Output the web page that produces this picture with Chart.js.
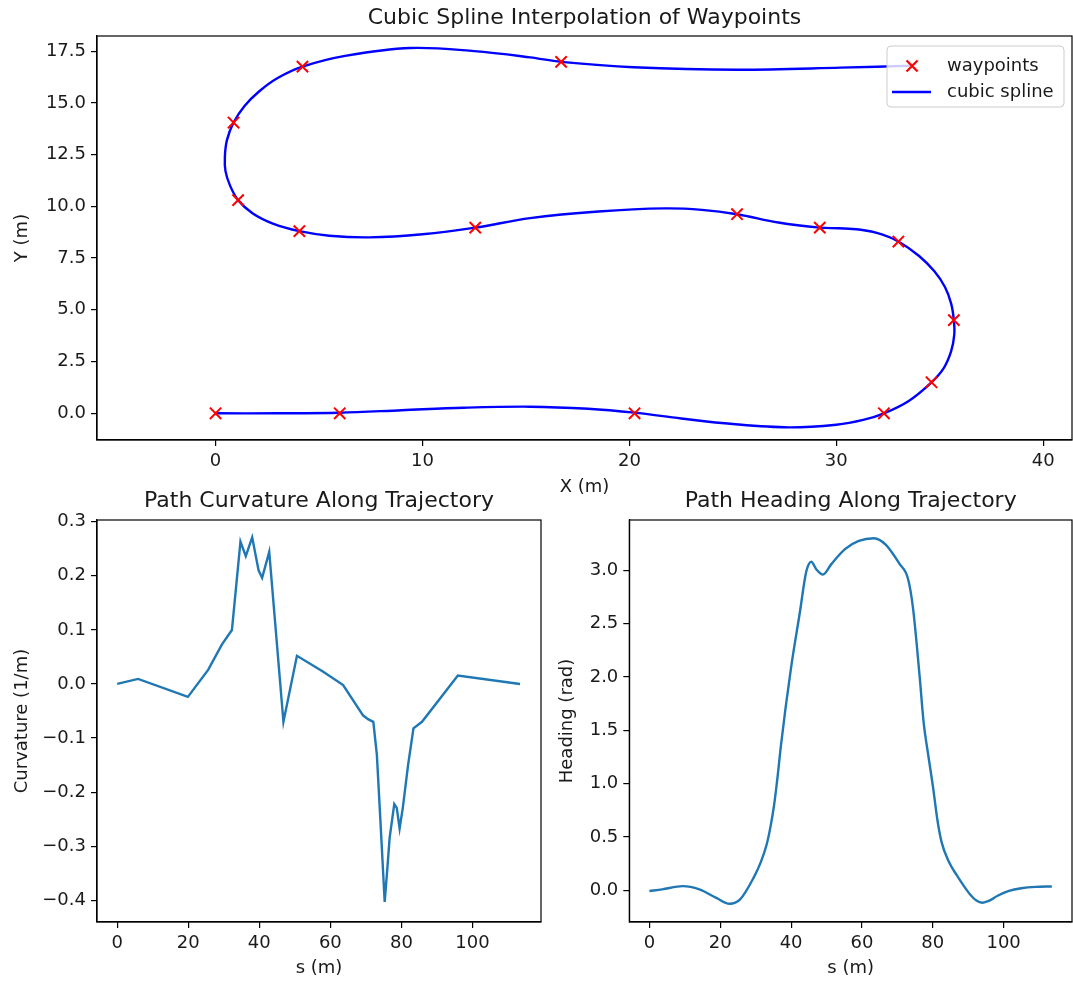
<!DOCTYPE html>
<html>
<head>
<meta charset="utf-8">
<title>Cubic Spline Interpolation of Waypoints</title>
<script src="https://cdn.jsdelivr.net/npm/chart.js@4.4.1/dist/chart.umd.min.js"></script>
<style>
  html, body { margin: 0; padding: 0; background: #ffffff; }
  #wrap { position: relative; width: 1073px; height: 981px; overflow: hidden; }
  #wrap canvas { position: absolute; }
</style>
</head>
<body>
<div id="wrap">
  <canvas id="pathChart" width="1073" height="500" style="left:0;top:0"></canvas>
  <canvas id="curvChart" width="545" height="500" style="left:0;top:481px"></canvas>
  <canvas id="headChart" width="528" height="500" style="left:545px;top:481px"></canvas>
</div>
<script>
// plot.js — waypoint spline, curvature and heading panels

Chart.defaults.font.family = "'DejaVu Sans', sans-serif";
Chart.defaults.font.size = 18;
Chart.defaults.color = '#1a1a1a';
Chart.defaults.animation = false;

// ---- top panel: waypoints and the spline through them (metres) ----
const WAYPOINT_X = [0, 6.0, 20.25, 32.3, 34.6, 35.68, 33.0, 29.2, 25.2, 12.55, 4.05, 1.09, 0.87, 4.2, 16.7, 33.7];
const WAYPOINT_Y = [0, 0, 0, 0, 1.5, 4.5, 8.3, 8.97, 9.62, 8.97, 8.8, 10.3, 14.05, 16.75, 16.98, 16.8];

const SPLINE_X = [0, 3, 6, 9, 12, 15.2, 18, 20.25, 22.5, 25, 27.7, 30, 31.3, 32.3, 33.5, 34.6,
  35.2, 35.55, 35.7, 35.68, 35.55, 35.25, 34.75, 34.0, 33.0, 32.2, 31.1, 30.1, 29.2, 27.2,
  25.2, 23.5, 21.7, 18.5, 15.2, 12.55, 10, 7.43, 5.5, 4.05, 2.8, 1.8, 1.09, 0.7, 0.48,
  0.45, 0.55, 0.87, 1.4, 2.1, 3.0, 4.2, 6.26, 9.42, 12.5, 15.2, 16.7, 20.2, 25.2, 30.2, 33.7];
const SPLINE_Y = [0, 0, 0.03, 0.15, 0.27, 0.32, 0.22, 0.03, -0.25, -0.52, -0.68, -0.55, -0.32, 0, 0.6, 1.5,
  2.2, 3.0, 3.8, 4.5, 5.3, 6.1, 6.85, 7.6, 8.3, 8.65, 8.88, 8.94, 8.97, 9.22,
  9.62, 9.83, 9.9, 9.75, 9.43, 8.97, 8.65, 8.5, 8.58, 8.8, 9.15, 9.65, 10.3, 11.0, 11.7,
  12.4, 13.2, 14.05, 14.85, 15.55, 16.2, 16.75, 17.27, 17.65, 17.5, 17.2, 16.98, 16.72, 16.6, 16.7, 16.8];

const PATH_X_TICKS = [0, 10, 20, 30, 40];
const PATH_Y_TICKS = [0, 2.5, 5, 7.5, 10, 12.5, 15, 17.5];

// ---- bottom panels: curvature and heading against arc length s ----
const CURV_S = [0, 5.9, 19.9, 25.6, 29.5, 32.3, 34.7, 36.2, 38.0, 39.8, 40.8, 42.8, 46.8, 50.6,
  57.9, 63.6, 69.2, 70.6, 72.1, 73.1, 74.1, 75.3, 76.0, 76.7, 78.0, 78.7, 79.5, 80.4, 81.9,
  83.4, 85.8, 95.9, 113.4];
const CURVATURE = [0, 0.0093, -0.024, 0.026, 0.073, 0.0996, 0.263, 0.236, 0.271, 0.21, 0.196, 0.244, -0.07, 0.052,
  0.023, -0.002, -0.058, -0.065, -0.07, -0.131, -0.253, -0.403, -0.345, -0.284, -0.222, -0.229, -0.267, -0.229, -0.149,
  -0.082, -0.07, 0.0156, 0];

const HEAD_S = [0, 3.6, 9.4, 14.1, 18.9, 22.6, 25.6, 29.4, 31.5, 33.1, 34.2, 35.2, 36.2, 37.1, 40.0, 42.4, 44.3,
  45.7, 47.1, 49.0, 51.4, 55.3, 59.1, 63.4, 66.7, 70.6, 73.0, 74.4, 76.3, 77.4, 78.8, 80.1, 81.3, 82.5,
  84.5, 86.8, 88.8, 90.6, 92.3, 94.0, 96.0, 98.3, 101.5, 105.0, 109.0, 113.6];
const HEADING = [-0.006, 0.01, 0.04, 0.01, -0.07, -0.125, -0.084, 0.118, 0.27, 0.43, 0.6, 0.8, 1.07, 1.35, 2.09, 2.59, 2.99,
  3.08, 3.01, 2.96, 3.06, 3.2, 3.275, 3.3, 3.24, 3.06, 2.92, 2.65, 2.0, 1.58, 1.25, 0.96, 0.66, 0.45,
  0.27, 0.14, 0.04, -0.04, -0.095, -0.115, -0.095, -0.05, -0.005, 0.02, 0.033, 0.037];

const S_TICKS = [0, 20, 40, 60, 80, 100];
const CURV_TICKS = [-0.4, -0.3, -0.2, -0.1, 0, 0.1, 0.2, 0.3];
const HEAD_TICKS = [0, 0.5, 1, 1.5, 2, 2.5, 3];

const SPLINE_BLUE = '#0000ff';
const MARKER_RED = '#ff0000';
const MPL_BLUE = '#1f77b4';

function fmt(v, digits) {
  return (v < 0 ? '\u2212' : '') + Math.abs(v).toFixed(digits);
}

function toPoints(xs, ys) {
  return xs.map((x, i) => ({ x, y: ys[i] }));
}

// matplotlib-like axis: outward ticks, no grid, fixed thickness
function axis({ min, max, ticks, digits, title, titlePad, size, horizontal }) {
  return {
    type: 'linear',
    min, max,
    afterBuildTicks: s => { s.ticks = ticks.map(v => ({ value: v })); },
    afterFit: s => {
      if (horizontal) s.height = size; else s.width = size;
      s.paddingLeft = s.paddingRight = s.paddingTop = s.paddingBottom = 0;
    },
    ticks: { callback: v => fmt(v, digits), padding: 5, maxRotation: 0, autoSkip: false },
    grid: { drawOnChartArea: false, drawTicks: true, tickLength: 6, color: '#000', lineWidth: 1.2 },
    border: { display: true, color: '#000', width: 1.2 },
    title: { display: true, text: title, padding: titlePad, color: '#1a1a1a' },
  };
}

// closes the frame: top and right spines
const frameBox = {
  id: 'frameBox',
  afterDatasetsDraw(chart) {
    const { ctx, chartArea: a } = chart;
    ctx.save();
    ctx.strokeStyle = '#000';
    ctx.lineWidth = 1.2;
    ctx.strokeRect(a.left, a.top, a.right - a.left, a.bottom - a.top);
    ctx.restore();
  },
};

// legend box in the upper right corner of the path axes
const pathLegend = {
  id: 'pathLegend',
  afterDraw(chart) {
    const { ctx, chartArea: a } = chart;
    const ds = chart.data.datasets;
    const w = 177, h = 61, r = 4;
    const x0 = a.right - 8 - w, y0 = a.top + 10;
    ctx.save();
    ctx.beginPath();
    ctx.moveTo(x0 + r, y0);
    ctx.arcTo(x0 + w, y0, x0 + w, y0 + h, r);
    ctx.arcTo(x0 + w, y0 + h, x0, y0 + h, r);
    ctx.arcTo(x0, y0 + h, x0, y0, r);
    ctx.arcTo(x0, y0, x0 + w, y0, r);
    ctx.closePath();
    ctx.fillStyle = 'rgba(255,255,255,0.8)';
    ctx.fill();
    ctx.strokeStyle = '#cccccc';
    ctx.lineWidth = 1;
    ctx.stroke();

    const mx = x0 + 25, row1 = y0 + 20, row2 = y0 + 46;
    // waypoint marker
    ctx.strokeStyle = ds[0].borderColor;
    ctx.lineWidth = ds[0].pointBorderWidth;
    const d = 5.5;
    ctx.beginPath();
    ctx.moveTo(mx - d, row1 - d); ctx.lineTo(mx + d, row1 + d);
    ctx.moveTo(mx - d, row1 + d); ctx.lineTo(mx + d, row1 - d);
    ctx.stroke();
    // spline line sample
    ctx.strokeStyle = ds[1].borderColor;
    ctx.lineWidth = ds[1].borderWidth;
    ctx.beginPath();
    ctx.moveTo(mx - 20, row2); ctx.lineTo(mx + 19, row2);
    ctx.stroke();

    ctx.fillStyle = '#1a1a1a';
    ctx.font = "18px 'DejaVu Sans', sans-serif";
    ctx.textBaseline = 'middle';
    ctx.fillText(ds[0].label, x0 + 60, row1);
    ctx.fillText(ds[1].label, x0 + 60, row2);
    ctx.restore();
  },
};

function titleOpts(text, top, bottom) {
  return {
    display: true, text, fullSize: false, color: '#1a1a1a',
    font: { size: 22, weight: 'normal' },
    padding: { top, bottom },
  };
}

// ============================================================
// PANEL 1: spline through the waypoints (equal aspect)
// ============================================================
function renderPathChart() {
  const ctx = document.getElementById('pathChart').getContext('2d');
  new Chart(ctx, {
    type: 'scatter',
    data: {
      datasets: [
        {
          label: 'waypoints',
          data: toPoints(WAYPOINT_X, WAYPOINT_Y),
          pointStyle: 'crossRot',
          pointRadius: 8,
          pointBorderWidth: 2,
          borderColor: MARKER_RED,
          backgroundColor: MARKER_RED,
          order: 0,
        },
        {
          label: 'cubic spline',
          data: toPoints(SPLINE_X, SPLINE_Y),
          showLine: true,
          borderColor: SPLINE_BLUE,
          borderWidth: 2.4,
          pointRadius: 0,
          tension: 0.35,
          order: 1,
        },
      ],
    },
    options: {
      responsive: false,
      layout: { autoPadding: false, padding: { right: 1 } },
      plugins: {
        legend: { display: false },
        tooltip: { enabled: false },
        title: titleOpts('Cubic Spline Interpolation of Waypoints', 5.1, 4.5),
      },
      scales: {
        x: axis({ min: -5.73, max: 41.39, ticks: PATH_X_TICKS, digits: 0, title: 'X (m)', titlePad: 2.2, size: 60, horizontal: true }),
        y: axis({ min: -1.29, max: 18.23, ticks: PATH_Y_TICKS, digits: 1, title: 'Y (m)', titlePad: 11.2, size: 97 }),
      },
    },
    plugins: [frameBox, pathLegend],
  });
}

// ============================================================
// PANEL 2: curvature along the trajectory
// ============================================================
function renderCurvatureChart() {
  const ctx = document.getElementById('curvChart').getContext('2d');
  new Chart(ctx, {
    type: 'scatter',
    data: {
      datasets: [{
        label: 'curvature',
        data: toPoints(CURV_S, CURVATURE),
        showLine: true,
        borderColor: MPL_BLUE,
        borderWidth: 2.4,
        pointRadius: 0,
        tension: 0,
      }],
    },
    options: {
      responsive: false,
      layout: { autoPadding: false, padding: { right: 4 } },
      plugins: {
        legend: { display: false },
        tooltip: { enabled: false },
        title: titleOpts('Path Curvature Along Trajectory', 7.5, 5.1),
      },
      scales: {
        x: axis({ min: -5.68, max: 119.3, ticks: S_TICKS, digits: 0, title: 's (m)', titlePad: 2.2, size: 59, horizontal: true }),
        y: axis({ min: -0.44, max: 0.303, ticks: CURV_TICKS, digits: 1, title: 'Curvature (1/m)', titlePad: 11.2, size: 97 }),
      },
    },
    plugins: [frameBox],
  });
}

// ============================================================
// PANEL 3: heading along the trajectory
// ============================================================
function renderHeadingChart() {
  const ctx = document.getElementById('headChart').getContext('2d');
  new Chart(ctx, {
    type: 'scatter',
    data: {
      datasets: [{
        label: 'heading',
        data: toPoints(HEAD_S, HEADING),
        showLine: true,
        borderColor: MPL_BLUE,
        borderWidth: 2.4,
        pointRadius: 0,
        cubicInterpolationMode: 'monotone',
      }],
    },
    options: {
      responsive: false,
      layout: { autoPadding: false, padding: { right: 1 } },
      plugins: {
        legend: { display: false },
        tooltip: { enabled: false },
        title: titleOpts('Path Heading Along Trajectory', 7.5, 5.1),
      },
      scales: {
        x: axis({ min: -5.68, max: 119.3, ticks: S_TICKS, digits: 0, title: 's (m)', titlePad: 2.2, size: 59, horizontal: true }),
        y: axis({ min: -0.296, max: 3.471, ticks: HEAD_TICKS, digits: 1, title: 'Heading (rad)', titlePad: 11.2, size: 84.3 }),
      },
    },
    plugins: [frameBox],
  });
}

renderPathChart();
renderCurvatureChart();
renderHeadingChart();
</script>
</body>
</html>
